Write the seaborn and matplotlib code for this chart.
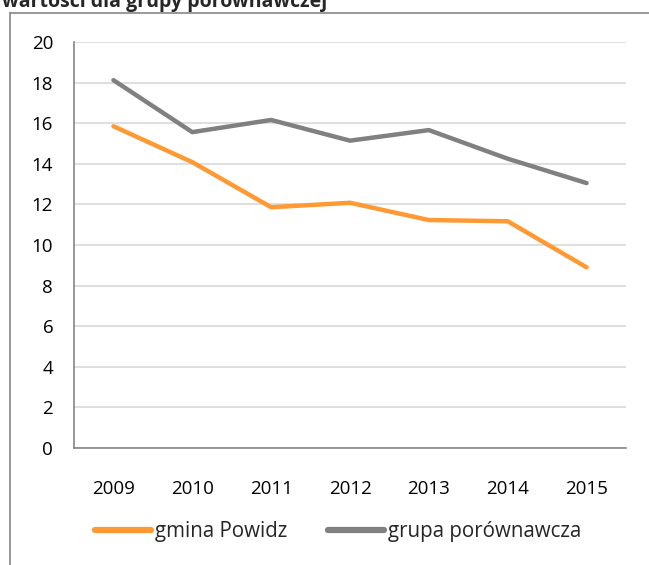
import matplotlib
matplotlib.use("Agg")
import matplotlib.pyplot as plt
import seaborn as sns
import pandas as pd
from matplotlib.lines import Line2D

years = ["2009", "2010", "2011", "2012", "2013", "2014", "2015"]
gmina = [15.85, 14.08, 11.86, 12.08, 11.23, 11.17, 8.90]
grupa = [18.12, 15.56, 16.16, 15.14, 15.66, 14.25, 13.05]
series_names = ["gmina Powidz", "grupa porównawcza"]
title = "wartości dla grupy porównawczej"

sns.set_theme(style="white")
plt.rcParams['font.family'] = ['Open Sans', 'DejaVu Sans']

df = pd.DataFrame({
    "rok": years * 2,
    "wartość": gmina + grupa,
    "seria": [series_names[0]] * len(years) + [series_names[1]] * len(years),
})

colors = {series_names[0]: "#FF9933", series_names[1]: "#808080"}

fig = plt.figure(figsize=(6.49, 5.65), dpi=100)
ax = fig.add_axes([74/649, 1-448/565, (626-74)/649, (448-42)/565])

sns.lineplot(data=df, x="rok", y="wartość", hue="seria", palette=colors,
             linewidth=3.2, ax=ax, legend=False, sort=False)
for l in ax.lines:
    l.set_solid_capstyle('round')
    l.set_solid_joinstyle('round')

ax.set_xlim(-0.5, 6.5)
ax.set_ylim(0, 20)
ax.set_yticks(range(0, 21, 2))
ax.set_xlabel("")
ax.set_ylabel("")
ax.grid(axis="y", color="#d9d9d9", linewidth=1.2)
ax.set_axisbelow(True)
for s in ["top", "right"]:
    ax.spines[s].set_visible(False)
for s in ["left", "bottom"]:
    ax.spines[s].set_color("#868686")
    ax.spines[s].set_linewidth(1.2)
ax.tick_params(axis="y", length=0, pad=15, labelsize=13.5, labelcolor="#000000")
ax.tick_params(axis="x", length=0, pad=23, labelsize=13.5, labelcolor="#000000")

handles = [Line2D([0], [0], color=colors[n], linewidth=4.5, solid_capstyle='round') for n in series_names]
fig.legend(handles, series_names, loc="center", bbox_to_anchor=(338/649, 1-532/565),
           ncol=2, frameon=False, fontsize=14.8, handlelength=2.7, handletextpad=0.2,
           columnspacing=2.0)

# outer chart-area border (clipped)
fig.add_artist(Line2D([10/649, 10/649], [0, 1-12.5/565], transform=fig.transFigure,
                      color="#868686", linewidth=1.2))
fig.add_artist(Line2D([10/649, 1.0], [1-12.5/565, 1-12.5/565], transform=fig.transFigure,
                      color="#868686", linewidth=1.2))

fig.text(2/649, 1-7.5/565, title, fontsize=14, fontweight="bold", va="baseline", ha="left")

fig.savefig("out.png", dpi=100)
